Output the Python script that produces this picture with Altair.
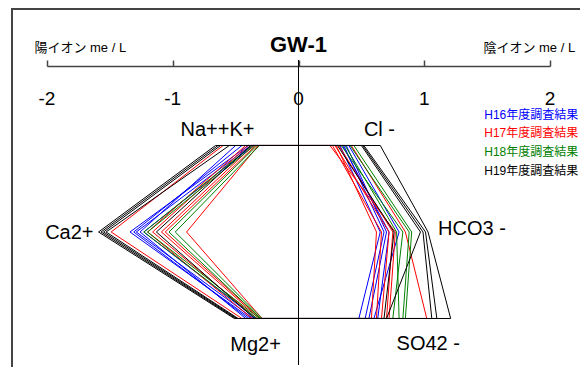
import altair as alt
import pandas as pd

# ---------------- data (me/L) ----------------
years = ["H16", "H17", "H18", "H19"]
year_colors = ["#0000ff", "#ff0000", "#008000", "#000000"]
legend_labels = ["H16年度調査結果", "H17年度調査結果", "H18年度調査結果", "H19年度調査結果"]

sample_year = ["H16"] * 5 + ["H17"] * 6 + ["H18"] * 4 + ["H19"] * 5
na   = [0.40, 0.45, 0.38, 0.50, 0.36,  0.60, 0.40, 0.36, 0.34, 0.32, 0.42,  0.37, 0.35, 0.33, 0.31,  0.66, 0.64, 0.62, 0.55, 0.38]
ca   = [1.34, 1.31, 1.29, 1.26, 1.23,  1.49, 1.16, 1.09, 1.06, 0.89, 1.20,  1.23, 1.20, 1.03, 0.98,  1.59, 1.57, 1.55, 1.53, 1.13]
mg   = [0.38, 0.40, 0.36, 0.42, 0.34,  0.45, 0.33, 0.31, 0.30, 0.29, 0.37,  0.33, 0.31, 0.30, 0.29,  0.51, 0.50, 0.49, 0.48, 0.35]
cl   = [0.33, 0.36, 0.38, 0.40, 0.35,  0.30, 0.27, 0.29, 0.32, 0.42, 0.25,  0.34, 0.44, 0.37, 0.41,  0.65, 0.52, 0.51, 0.50, 0.31]
hco3 = [0.65, 0.68, 0.70, 0.80, 0.72,  0.62, 0.66, 0.72, 0.75, 0.85, 0.77,  0.83, 0.90, 0.78, 0.88,  1.03, 1.01, 0.99, 0.97, 0.76]
so4  = [0.48, 0.53, 0.56, 0.60, 0.63,  0.58, 0.62, 0.66, 0.70, 1.02, 0.72,  0.75, 0.85, 0.80, 0.83,  1.21, 1.10, 1.06, 0.70, 0.68]

tick_values = [-2, -1, 0, 1, 2]
tick_labels = ["-2", "-1", "0", "1", "2"]

cation_names = ["Na++K+", "Ca2+", "Mg2+"]
cation_x = [-0.35, -1.63, -0.14]
cation_row = [-0.18, 1.01, 2.31]
anion_names = ["Cl -", "HCO3 -", "SO42 -"]
anion_x = [0.52, 1.11, 0.78]
anion_row = [-0.18, 0.96, 2.29]

legend_x = [2.225, 2.225, 2.225, 2.225]
legend_row = [-0.35, -0.14, 0.08, 0.30]

# ---------------- build polygon table ----------------
rows = []
for i, yr in enumerate(sample_year):
    verts = [(-na[i], 0), (-ca[i], 1), (-mg[i], 2), (so4[i], 2), (hco3[i], 1), (cl[i], 0), (-na[i], 0)]
    for k, (xv, rv) in enumerate(verts):
        rows.append({"sample": i, "year": yr, "x": xv, "row": rv, "k": k})
poly = pd.DataFrame(rows)

W, H = 503, 299
FONT = "Liberation Sans, Arial, Noto Sans CJK JP"

xscale = alt.Scale(domain=[-2, 2], nice=False, zero=False)
yscale = alt.Scale(domain=[-0.919, 2.5376], reverse=True, nice=False, zero=False)
cscale = alt.Scale(domain=years, range=year_colors)

layers = []

# axis layer (top axis, ticks only)
axis_df = pd.DataFrame({"x": tick_values, "lab": tick_labels})
axis_layer = alt.Chart(axis_df).mark_point(opacity=0).encode(
    x=alt.X("x:Q", scale=xscale,
            axis=alt.Axis(orient="top", values=tick_values, labels=False, ticks=True,
                          tickSize=6, tickColor="#444", domainColor="#444",
                          domainWidth=1.5, tickWidth=1.5, grid=False, title=None)),
    y=alt.value(0),
)
layers.append(axis_layer)

# tick labels (below the axis line)
tick_text = alt.Chart(axis_df).mark_text(fontSize=19, font=FONT, baseline="middle",
                                         align="center", color="#000").encode(
    x=alt.X("x:Q", scale=xscale), y=alt.value(33), text="lab:N")
layers.append(tick_text)

# zero line
zero_rule = alt.Chart(pd.DataFrame({"x": [0]})).mark_rule(color="#000", strokeWidth=1).encode(
    x=alt.X("x:Q", scale=xscale), y=alt.value(-6), y2=alt.value(H))
layers.append(zero_rule)

# polygons, one layer per year for drawing order
for yr in years:
    d = poly[poly["year"] == yr]
    lay = alt.Chart(d).mark_line(strokeWidth=1, clip=False).encode(
        x=alt.X("x:Q", scale=xscale),
        y=alt.Y("row:Q", scale=yscale, axis=None),
        color=alt.Color("year:N", scale=cscale, legend=None),
        detail="sample:N",
        order="k:Q",
    )
    layers.append(lay)

# ion labels
cat_df = pd.DataFrame({"name": cation_names, "x": cation_x, "row": cation_row})
an_df = pd.DataFrame({"name": anion_names, "x": anion_x, "row": anion_row})
layers.append(alt.Chart(cat_df).mark_text(fontSize=20, font=FONT, align="right",
                                          baseline="middle", color="#000").encode(
    x=alt.X("x:Q", scale=xscale), y=alt.Y("row:Q", scale=yscale), text="name:N"))
layers.append(alt.Chart(an_df).mark_text(fontSize=20, font=FONT, align="left",
                                         baseline="middle", color="#000").encode(
    x=alt.X("x:Q", scale=xscale), y=alt.Y("row:Q", scale=yscale), text="name:N"))

# legend texts
leg_df = pd.DataFrame({"name": legend_labels, "year": years, "x": legend_x, "row": legend_row})
layers.append(alt.Chart(leg_df).mark_text(fontSize=12, font=FONT, align="right",
                                          baseline="middle").encode(
    x=alt.X("x:Q", scale=xscale), y=alt.Y("row:Q", scale=yscale), text="name:N",
    color=alt.Color("year:N", scale=cscale, legend=None)))

# header texts
hdr_df = pd.DataFrame({"t": ["GW-1"], "x": [0]})
layers.append(alt.Chart(hdr_df).mark_text(fontSize=22, fontWeight="bold", font=FONT,
                                          align="center", baseline="middle",
                                          color="#000").encode(
    x=alt.X("x:Q", scale=xscale), y=alt.value(-21), text="t:N"))
side_df = pd.DataFrame({"t": ["陽イオン  me / L", "陰イオン  me / L"], "x": [-2.1, 2.2]})
layers.append(alt.Chart(side_df.iloc[[0]]).mark_text(fontSize=13, font=FONT, align="left",
                                                     baseline="middle", color="#000").encode(
    x=alt.X("x:Q", scale=xscale), y=alt.value(-18), text="t:N"))
layers.append(alt.Chart(side_df.iloc[[1]]).mark_text(fontSize=13, font=FONT, align="right",
                                                     baseline="middle", color="#000").encode(
    x=alt.X("x:Q", scale=xscale), y=alt.value(-18), text="t:N"))

# outer frame
frame = alt.Chart(pd.DataFrame({"a": [0]})).mark_rect(fill=None, stroke="#444", strokeWidth=2).encode(
    x=alt.value(-35), x2=alt.value(700), y=alt.value(-57), y2=alt.value(600))
layers.append(frame)

chart = alt.layer(*layers).properties(
    width=W, height=H,
    autosize=alt.AutoSizeParams(type="none"),
    padding={"left": 39, "top": 58, "right": 30, "bottom": 2},
).configure_view(stroke=None)

chart.save("out.html", embed_options={"renderer": "svg", "actions": False})
